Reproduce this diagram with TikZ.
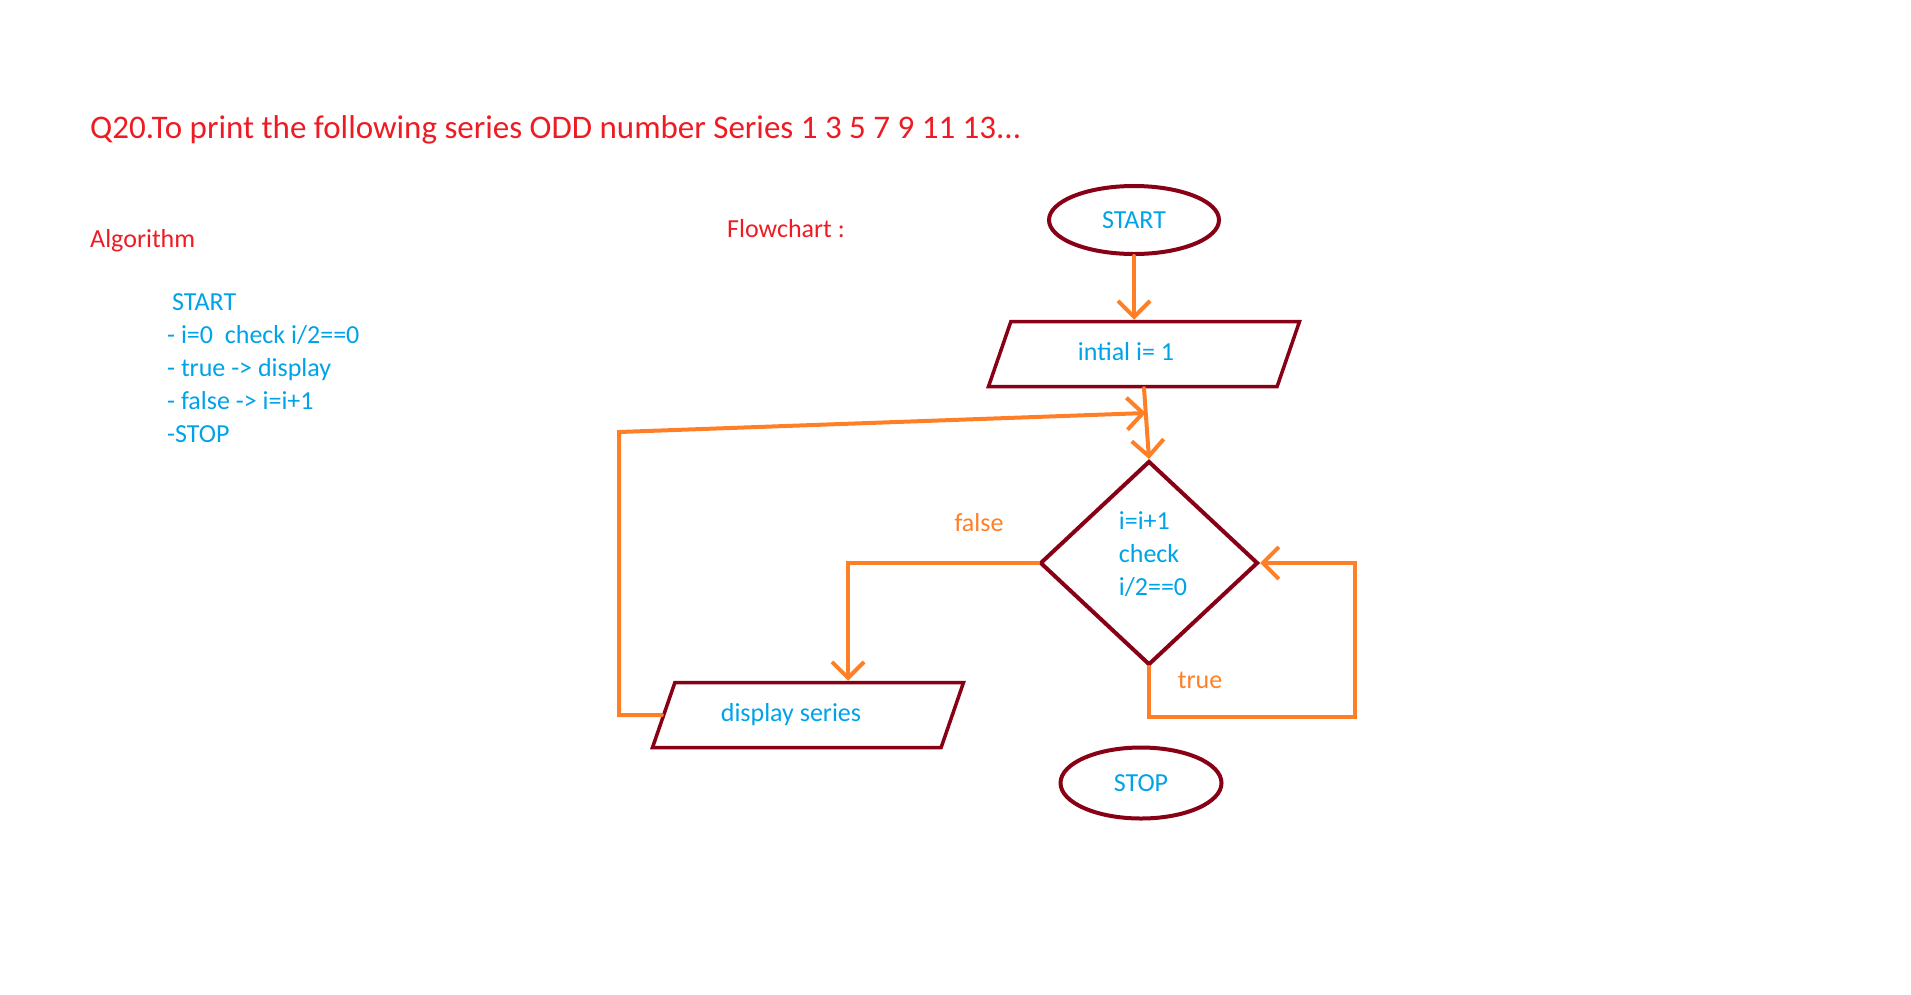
\documentclass[tikz,border=0pt]{standalone}
\usepackage{fontspec}
\setmainfont{Carlito}
\usetikzlibrary{shapes.geometric,arrows.meta,calc}
\definecolor{pmaroon}{RGB}{136,0,21}
\definecolor{porange}{RGB}{255,127,39}
\definecolor{pblue}{RGB}{0,162,232}
\definecolor{pred}{RGB}{237,28,36}
\newcommand{\txtfont}{\fontsize{26}{33}\selectfont}
\tikzset{
	x=1pt, y=-1pt, % one unit is one pixel, y runs downwards
	terminal/.style={ellipse, draw=pmaroon, line width=4pt, text=pblue, font=\txtfont}, % start and stop
	io/.style={trapezium, trapezium left angle=71, trapezium right angle=109, trapezium stretches body,
		draw=pmaroon, line width=3.5pt, minimum width=311pt, text height=19pt, text depth=6pt,
		inner ysep=20pt, text=pblue, font=\txtfont}, % input / output boxes
	decision/.style={diamond, draw=pmaroon, line width=4pt, minimum width=218pt, minimum height=204pt,
		inner sep=0pt}, % the check
	checktext/.style={align=left, text=pblue, font=\txtfont, xshift=4pt, yshift=9pt},
	flow/.style={draw=porange, line width=4pt, line cap=round, -{Straight Barb[length=16pt,width=32pt]}}, % arrows
	answer/.style={text=porange, font=\txtfont}, % true / false
	heading/.style={text=pred, anchor=base west, inner sep=0pt}, % red texts
}
\begin{document}
\begin{tikzpicture}
	\useasboundingbox (0,0) rectangle (1911,994);
	% texts
	\node[heading, font=\fontsize{33}{40}\selectfont] (title) at (90,138) {Q20.To print the following series ODD number Series 1 3 5 7 9 11 13...};
	\node[heading, font=\txtfont] (algo) at (90,247) {Algorithm};
	\node[heading, font=\txtfont] (fc) at (727,237) {Flowchart :};
	\node[anchor=north west, inner sep=0pt, align=left, text=pblue, font=\txtfont] (steps) at (167,293)
		{\hspace{5pt}START\\- i=0\ \ check i/2==0\\- true -> display\\- false -> i=i+1\\-STOP};
	
	% flowchart
	\node[terminal, minimum width=170pt, minimum height=68pt] (start) at (1134,220) {START};
	\node[io] (init) at (1144,354) {intial i= 1\hspace*{36pt}};
	\node[decision, label={[checktext]center:{i=i+1\\check\\i/2==0}}] (check) at (1149,563) {};
	\node[io] (disp) at (808,715) {display series\hspace*{34pt}};
	\node[terminal, minimum width=161pt, minimum height=71pt] (stop) at (1141,783) {STOP};
	\node[answer] (false) at (979,523) {false};
	\node[answer] (true) at (1200,680) {true};
	
	\coordinate (jn) at ($(init.south)!0.35!(check.north)$);
	\coordinate (lcorner) at (619,432);
	\coordinate (tloop) at (1355,717);
	
	\draw[flow] (start.south) -- (start.south |- init.north);
	\draw[flow] (init.south) -- (check.north);
	\draw[flow] (check.west) -| ([xshift=40pt]disp.north);
	\draw[flow] (check.south) |- (tloop) |- (check.east);
	\draw[flow] (disp.west) -| (lcorner) -- (jn);
\end{tikzpicture}
\end{document}
